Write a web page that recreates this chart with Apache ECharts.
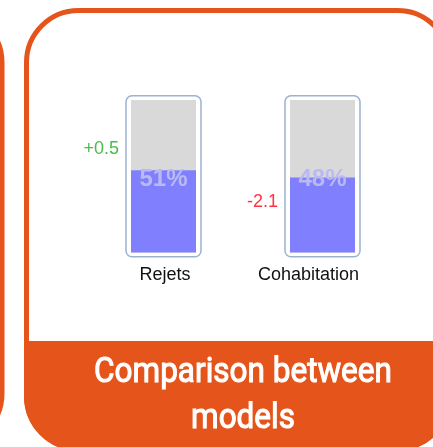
<!DOCTYPE html>
<html>
<head>
<meta charset="utf-8">
<script src="https://cdn.jsdelivr.net/npm/echarts@6/dist/echarts.min.js"></script>
<style>
  html, body { margin: 0; padding: 0; background: #ffffff; }
  #chart { width: 433px; height: 447px; }
</style>
</head>
<body>
<div id="chart"></div>
<script>
// Model shares and their change versus the previous reading
const categories = ['Rejets', 'Cohabitation'];
const shares = [51, 48];
const deltas = [0.5, -2.1];
const bannerLines = ['Comparison between', 'models'];

// Gauge scale (hidden axis)
const Y_MIN = 17;
const Y_MAX = 80;

const ORANGE = '#e5541a';
const FILL = '#8080ff';
const TRACK = '#d9d9d9';
const nameNudge = [1.5, -14];

const chart = echarts.init(document.getElementById('chart'), null, { renderer: 'canvas' });

function fmtDelta(d) {
  return (d > 0 ? '+' : '') + d.toFixed(1);
}

function renderGauge(params, api) {
  const i = api.value(0);
  const v = api.value(1);
  const d = api.value(2);
  const base = api.coord([i, Y_MIN]);
  const top = api.coord([i, Y_MAX]);
  const lvl = api.coord([i, v]);
  const cx = base[0];
  const yBase = base[1];
  const yTop = top[1];
  const yLvl = lvl[1];
  const innerW = 65;
  const frameW = 75;
  return {
    type: 'group',
    children: [
      {
        type: 'rect',
        shape: { x: cx - frameW / 2, y: yTop - 4.3, width: frameW, height: yBase - yTop + 8.6, r: 6 },
        style: { fill: '#ffffff', stroke: '#9cb3cf', lineWidth: 1.5 }
      },
      {
        type: 'rect',
        shape: { x: cx - innerW / 2, y: yTop, width: innerW, height: yBase - yTop },
        style: { fill: TRACK }
      },
      {
        type: 'rect',
        shape: { x: cx - innerW / 2, y: yLvl, width: innerW, height: yBase - yLvl },
        style: { fill: FILL }
      },
      {
        type: 'text',
        x: cx,
        y: (yTop + yBase) / 2 + 3,
        style: {
          text: v + '%',
          fill: '#babaf2',
          font: 'bold 24px "Liberation Sans", Arial, sans-serif',
          align: 'center',
          verticalAlign: 'middle'
        }
      },
      {
        type: 'text',
        x: cx - frameW / 2 - 7,
        y: yLvl + (d >= 0 ? -21 : 25),
        style: {
          text: fmtDelta(d),
          fill: d >= 0 ? '#4cbb4c' : '#ff3344',
          font: '18px "Liberation Sans", Arial, sans-serif',
          align: 'right',
          verticalAlign: 'middle'
        }
      },
      {
        type: 'text',
        x: cx + nameNudge[i],
        y: yBase + 23,
        style: {
          text: categories[i],
          fill: '#111111',
          font: '18px "Liberation Sans", Arial, sans-serif',
          align: 'center',
          verticalAlign: 'middle'
        }
      }
    ]
  };
}

const bannerText = (text, y) => ({
  type: 'text',
  x: 243,
  y: y,
  scaleX: 0.9,
  style: {
    text: text,
    fill: '#ffffff',
    stroke: '#ffffff',
    lineWidth: 1.1,
    font: '35px Roboto, sans-serif',
    align: 'center',
    verticalAlign: 'middle'
  }
});

const option = {
  animation: false,
  backgroundColor: '#ffffff',
  grid: { left: 84, top: 100, width: 318, height: 152.5 },
  xAxis: {
    type: 'category',
    data: categories,
    show: false,
    boundaryGap: true
  },
  yAxis: {
    type: 'value',
    min: Y_MIN,
    max: Y_MAX,
    show: false
  },
  graphic: [
    // neighbouring panel, right edge only
    {
      type: 'rect',
      z: -10,
      shape: { x: -420, y: 10.5, width: 422, height: 435, r: 52 },
      style: { fill: '#ffffff', stroke: ORANGE, lineWidth: 5 }
    },
    // main panel
    {
      type: 'rect',
      z: -10,
      shape: { x: 26.5, y: 10.5, width: 423, height: 438, r: 52 },
      style: { fill: '#ffffff', stroke: ORANGE, lineWidth: 5 }
    },
    // title banner
    {
      type: 'rect',
      z: -9,
      shape: { x: 24, y: 341, width: 428, height: 110, r: [0, 0, 55, 55] },
      style: { fill: ORANGE }
    },
    bannerText(bannerLines[0], 373),
    bannerText(bannerLines[1], 419)
  ],
  series: [
    {
      type: 'custom',
      renderItem: renderGauge,
      data: categories.map((c, i) => [i, shares[i], deltas[i]]),
      clip: false
    }
  ]
};

chart.setOption(option);
</script>
</body>
</html>
